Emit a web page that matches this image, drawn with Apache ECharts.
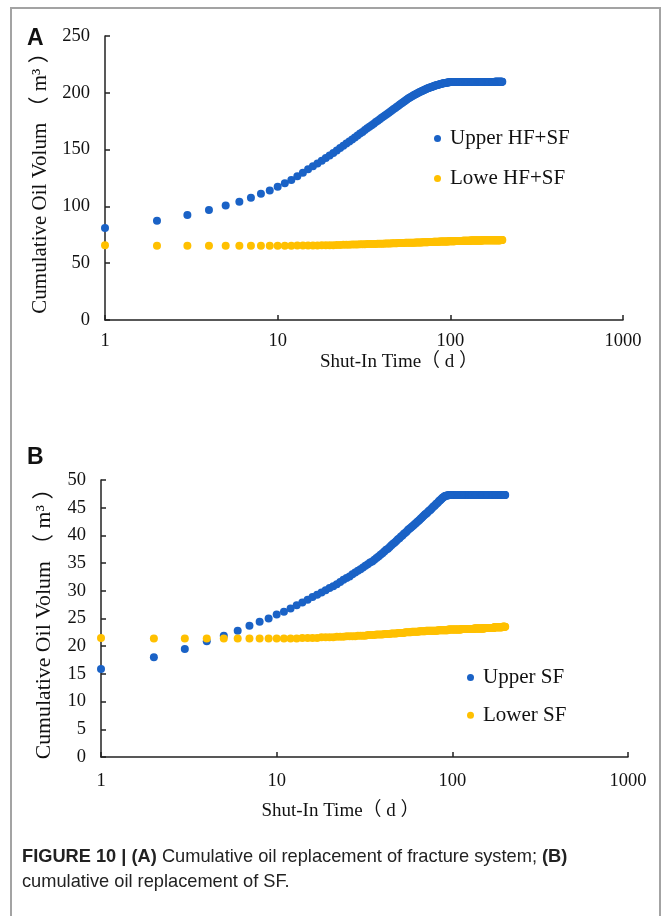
<!DOCTYPE html>
<html>
<head>
<meta charset="utf-8">
<script src="https://cdn.jsdelivr.net/npm/echarts@6.0.0/dist/echarts.min.js"></script>
<style>
  html, body { margin: 0; padding: 0; background: #fff; }
  #chart { width: 663px; height: 916px; }
</style>
</head>
<body>
<div id="chart"></div>
<script>
// shut-in time, days 1..200 (one sample per day)
const days = Array.from({ length: 200 }, (_, i) => i + 1);
const xTicks = [1, 10, 100, 1000];

// panel A: cumulative oil volume (m3)
const upperHFSF = [
  81.0, 87.4, 92.4, 96.8, 100.9, 104.2, 107.7, 111.2, 114.1, 117.4,
  120.3, 123.2, 126.5, 129.7, 132.6, 135.3, 137.8, 140.2, 142.6, 144.7,
  146.9, 149.1, 151.3, 153.3, 155.3, 157.2, 159.0, 160.7, 162.4, 164.1,
  165.6, 167.2, 168.7, 170.1, 171.5, 172.8, 174.2, 175.5, 176.7, 178.0,
  179.2, 180.3, 181.4, 182.5, 183.6, 184.7, 185.7, 186.7, 187.7, 188.7,
  189.7, 190.6, 191.5, 192.4, 193.3, 194.1, 194.9, 195.6, 196.3, 197.0,
  197.6, 198.2, 198.8, 199.4, 199.9, 200.4, 200.9, 201.4, 201.9, 202.3,
  202.7, 203.1, 203.5, 203.9, 204.3, 204.6, 204.9, 205.2, 205.5, 205.8,
  206.1, 206.4, 206.6, 206.9, 207.1, 207.3, 207.5, 207.7, 207.9, 208.1,
  208.3, 208.4, 208.6, 208.7, 208.9, 209.0, 209.1, 209.2, 209.3, 209.4,
  209.4, 209.5, 209.5, 209.5, 209.5, 209.5, 209.5, 209.5, 209.5, 209.5,
  209.5, 209.5, 209.5, 209.5, 209.5, 209.5, 209.5, 209.5, 209.5, 209.5,
  209.5, 209.5, 209.5, 209.5, 209.5, 209.5, 209.5, 209.5, 209.5, 209.5,
  209.5, 209.5, 209.5, 209.5, 209.5, 209.5, 209.5, 209.5, 209.5, 209.5,
  209.6, 209.6, 209.6, 209.6, 209.6, 209.6, 209.6, 209.6, 209.6, 209.6,
  209.6, 209.6, 209.6, 209.6, 209.6, 209.6, 209.6, 209.6, 209.6, 209.6,
  209.6, 209.6, 209.6, 209.6, 209.6, 209.6, 209.6, 209.6, 209.6, 209.6,
  209.6, 209.6, 209.6, 209.6, 209.6, 209.6, 209.6, 209.6, 209.6, 209.6,
  209.7, 209.7, 209.7, 209.7, 209.7, 209.7, 209.7, 209.7, 209.7, 209.7,
  209.7, 209.7, 209.7, 209.7, 209.7, 209.7, 209.7, 209.7, 209.7, 209.7
];
const loweHFSF = [
  65.7, 65.4, 65.4, 65.4, 65.4, 65.4, 65.4, 65.4, 65.4, 65.4,
  65.4, 65.4, 65.5, 65.5, 65.5, 65.6, 65.6, 65.7, 65.8, 65.9,
  65.9, 66.0, 66.1, 66.2, 66.2, 66.3, 66.4, 66.5, 66.5, 66.6,
  66.7, 66.7, 66.8, 66.8, 66.9, 67.0, 67.0, 67.1, 67.1, 67.2,
  67.2, 67.3, 67.3, 67.4, 67.4, 67.5, 67.5, 67.6, 67.6, 67.7,
  67.7, 67.7, 67.8, 67.8, 67.9, 67.9, 67.9, 68.0, 68.0, 68.1,
  68.1, 68.1, 68.2, 68.2, 68.2, 68.3, 68.3, 68.3, 68.4, 68.4,
  68.4, 68.5, 68.5, 68.5, 68.6, 68.6, 68.6, 68.7, 68.7, 68.8,
  68.8, 68.8, 68.8, 68.9, 68.9, 68.9, 69.0, 69.0, 69.0, 69.1,
  69.1, 69.1, 69.1, 69.2, 69.2, 69.2, 69.2, 69.3, 69.3, 69.3,
  69.3, 69.4, 69.4, 69.4, 69.4, 69.4, 69.5, 69.5, 69.5, 69.5,
  69.5, 69.6, 69.6, 69.6, 69.6, 69.6, 69.6, 69.7, 69.7, 69.7,
  69.7, 69.7, 69.7, 69.8, 69.8, 69.8, 69.8, 69.8, 69.8, 69.8,
  69.9, 69.9, 69.9, 69.9, 69.9, 69.9, 69.9, 69.9, 69.9, 69.9,
  69.9, 69.9, 70.0, 70.0, 70.0, 70.0, 70.0, 70.0, 70.0, 70.0,
  70.0, 70.0, 70.0, 70.1, 70.1, 70.1, 70.1, 70.1, 70.1, 70.1,
  70.1, 70.1, 70.1, 70.1, 70.1, 70.1, 70.1, 70.1, 70.1, 70.1,
  70.2, 70.2, 70.2, 70.2, 70.2, 70.2, 70.2, 70.2, 70.2, 70.2,
  70.2, 70.2, 70.3, 70.3, 70.3, 70.3, 70.3, 70.3, 70.3, 70.3,
  70.3, 70.3, 70.3, 70.3, 70.3, 70.4, 70.4, 70.4, 70.4, 70.4
];

// panel B: cumulative oil volume (m3)
const upperSF = [
  15.9, 18.0, 19.5, 20.9, 21.9, 22.8, 23.7, 24.4, 25.0, 25.7,
  26.2, 26.8, 27.4, 27.9, 28.4, 28.9, 29.3, 29.7, 30.1, 30.5,
  30.8, 31.2, 31.6, 32.0, 32.3, 32.6, 33.0, 33.3, 33.6, 33.9,
  34.2, 34.5, 34.8, 35.1, 35.3, 35.6, 35.9, 36.2, 36.5, 36.8,
  37.1, 37.4, 37.6, 37.9, 38.2, 38.5, 38.7, 39.0, 39.3, 39.5,
  39.8, 40.0, 40.3, 40.5, 40.7, 41.0, 41.2, 41.4, 41.6, 41.8,
  42.0, 42.2, 42.4, 42.6, 42.8, 43.0, 43.2, 43.4, 43.6, 43.8,
  43.9, 44.1, 44.3, 44.5, 44.6, 44.8, 45.0, 45.2, 45.3, 45.5,
  45.7, 45.8, 46.0, 46.2, 46.3, 46.5, 46.6, 46.8, 46.9, 47.0,
  47.1, 47.15, 47.2, 47.2, 47.25, 47.3, 47.3, 47.3, 47.3, 47.3,
  47.3, 47.3, 47.3, 47.3, 47.3, 47.3, 47.3, 47.3, 47.3, 47.3,
  47.3, 47.3, 47.3, 47.3, 47.3, 47.3, 47.3, 47.3, 47.3, 47.3,
  47.3, 47.3, 47.3, 47.3, 47.3, 47.3, 47.3, 47.3, 47.3, 47.3,
  47.3, 47.3, 47.3, 47.3, 47.3, 47.3, 47.3, 47.3, 47.3, 47.3,
  47.3, 47.3, 47.3, 47.3, 47.3, 47.3, 47.3, 47.3, 47.3, 47.3,
  47.3, 47.3, 47.3, 47.3, 47.3, 47.3, 47.3, 47.3, 47.3, 47.3,
  47.3, 47.3, 47.3, 47.3, 47.3, 47.3, 47.3, 47.3, 47.3, 47.3,
  47.3, 47.3, 47.3, 47.3, 47.3, 47.3, 47.3, 47.3, 47.3, 47.3,
  47.3, 47.3, 47.3, 47.3, 47.3, 47.3, 47.3, 47.3, 47.3, 47.3,
  47.3, 47.3, 47.3, 47.3, 47.3, 47.3, 47.3, 47.3, 47.3, 47.3
];
const lowerSF = [
  21.5, 21.4, 21.4, 21.4, 21.4, 21.4, 21.4, 21.4, 21.4, 21.4,
  21.4, 21.4, 21.4, 21.5, 21.5, 21.5, 21.5, 21.6, 21.6, 21.6,
  21.6, 21.7, 21.7, 21.7, 21.8, 21.8, 21.8, 21.8, 21.9, 21.9,
  21.9, 21.9, 22.0, 22.0, 22.0, 22.0, 22.1, 22.1, 22.1, 22.1,
  22.2, 22.2, 22.2, 22.2, 22.3, 22.3, 22.3, 22.3, 22.4, 22.4,
  22.4, 22.4, 22.4, 22.5, 22.5, 22.5, 22.5, 22.5, 22.6, 22.6,
  22.6, 22.6, 22.6, 22.6, 22.7, 22.7, 22.7, 22.7, 22.7, 22.7,
  22.8, 22.8, 22.8, 22.8, 22.8, 22.8, 22.8, 22.8, 22.8, 22.8,
  22.8, 22.8, 22.9, 22.9, 22.9, 22.9, 22.9, 22.9, 22.9, 22.9,
  22.9, 22.9, 22.9, 22.9, 23.0, 23.0, 23.0, 23.0, 23.0, 23.0,
  23.0, 23.0, 23.0, 23.0, 23.0, 23.0, 23.0, 23.0, 23.0, 23.0,
  23.0, 23.0, 23.1, 23.1, 23.1, 23.1, 23.1, 23.1, 23.1, 23.1,
  23.1, 23.1, 23.1, 23.1, 23.1, 23.1, 23.1, 23.1, 23.1, 23.1,
  23.1, 23.1, 23.2, 23.2, 23.2, 23.2, 23.2, 23.2, 23.2, 23.2,
  23.2, 23.2, 23.2, 23.2, 23.2, 23.2, 23.2, 23.2, 23.2, 23.2,
  23.2, 23.2, 23.3, 23.3, 23.3, 23.3, 23.3, 23.3, 23.3, 23.3,
  23.3, 23.3, 23.3, 23.3, 23.3, 23.3, 23.3, 23.3, 23.3, 23.3,
  23.3, 23.3, 23.4, 23.4, 23.4, 23.4, 23.4, 23.4, 23.4, 23.4,
  23.4, 23.4, 23.4, 23.4, 23.4, 23.4, 23.4, 23.4, 23.4, 23.4,
  23.4, 23.4, 23.5, 23.5, 23.5, 23.5, 23.5, 23.5, 23.5, 23.5
];

const BLUE = '#1a62c6';
const GOLD = '#ffc000';
const SERIF = "'Liberation Serif', 'Times New Roman', 'Noto Sans CJK SC', serif";
const SANS = "'Liberation Sans Narrow', 'Liberation Sans', Arial, sans-serif";

const pairs = (vals) => days.map((d, i) => [d, vals[i]]);

function xAxisFor(gridIndex, labelMargin, nameGap, namePad) {
  return {
    type: 'log', logBase: 10, gridIndex,
    min: xTicks[0], max: xTicks[xTicks.length - 1],
    axisLine: { lineStyle: { color: '#222', width: 1.5 } },
    axisTick: { inside: true, length: 5, lineStyle: { color: '#222', width: 1.5 } },
    axisLabel: {
      color: '#111', fontFamily: SERIF, fontSize: 18.5, margin: labelMargin,
      formatter: (v) => String(Math.round(v))
    },
    splitLine: { show: false },
    name: 'Shut-In Time（ d ）', nameLocation: 'middle', nameGap,
    nameTextStyle: { color: '#111', fontFamily: SERIF, fontSize: 19, padding: namePad }
  };
}

function yAxisFor(gridIndex, max, interval, nameGap, nameSize) {
  return {
    type: 'value', gridIndex, min: 0, max, interval,
    axisLine: { show: true, lineStyle: { color: '#222', width: 1.5 } },
    axisTick: { show: true, inside: true, length: 5, lineStyle: { color: '#222', width: 1.5 } },
    axisLabel: { color: '#111', fontFamily: SERIF, fontSize: 18.5, margin: 15 },
    splitLine: { show: false },
    name: 'Cumulative Oil Volum （ m³ ）', nameLocation: 'middle', nameRotate: 90, nameGap,
    nameTextStyle: { color: '#111', fontFamily: SERIF, fontSize: nameSize }
  };
}

function dots(name, vals, color, axisIndex) {
  return {
    name, type: 'scatter', xAxisIndex: axisIndex, yAxisIndex: axisIndex,
    data: pairs(vals), symbol: 'circle', symbolSize: 8,
    itemStyle: { color, opacity: 1 }
  };
}

const legendText = { color: '#111', fontFamily: SERIF, fontSize: 21, lineHeight: 21, padding: [0, 0, 0, 4] };

const chart = echarts.init(document.getElementById('chart'), null, { renderer: 'canvas' });
chart.setOption({
  animation: false,
  backgroundColor: '#fff',
  grid: [
    { left: 105, top: 36, width: 518, height: 284 },
    { left: 101, top: 480, width: 527, height: 277 }
  ],
  xAxis: [xAxisFor(0, 12, 33, [0, 0, 0, 70]), xAxisFor(1, 15, 45, [0, 48, 0, 0])],
  yAxis: [yAxisFor(0, 250, 50, 50, 21), yAxisFor(1, 50, 5, 46, 21.8)],
  legend: [
    {
      data: ['Upper HF+SF', 'Lowe HF+SF'], orient: 'vertical', left: 434, top: 128,
      padding: 0, itemGap: 19, itemWidth: 7, itemHeight: 7, icon: 'circle',
      selectedMode: false, textStyle: legendText
    },
    {
      data: ['Upper SF', 'Lower SF'], orient: 'vertical', left: 467, top: 667,
      padding: 0, itemGap: 16.7, itemWidth: 7, itemHeight: 7, icon: 'circle',
      selectedMode: false, textStyle: legendText
    }
  ],
  series: [
    dots('Upper HF+SF', upperHFSF, BLUE, 0),
    dots('Lowe HF+SF', loweHFSF, GOLD, 0),
    dots('Upper SF', upperSF, BLUE, 1),
    dots('Lower SF', lowerSF, GOLD, 1)
  ],
  graphic: [
    {
      type: 'rect', silent: true, z: -1,
      shape: { x: 11, y: 8, width: 649, height: 930 },
      style: { fill: 'none', stroke: '#a3a3a3', lineWidth: 2 }
    },
    {
      type: 'text', left: 27, top: 27,
      style: { text: 'A', fill: '#111', font: 'bold 23px ' + SANS }
    },
    {
      type: 'text', left: 27, top: 446,
      style: { text: 'B', fill: '#111', font: 'bold 23px ' + SANS }
    },
    {
      type: 'text', x: 22, y: 844, scaleX: 0.96,
      style: {
        text: '{b|FIGURE 10 | (A)} Cumulative oil replacement of fracture system; {b|(B)}\ncumulative oil replacement of SF.',
        fill: '#222', font: '19px ' + SANS, lineHeight: 25,
        rich: { b: { fontWeight: 'bold', fontFamily: SANS, fontSize: 19, fill: '#222', lineHeight: 25 } }
      }
    }
  ]
});
</script>
</body>
</html>
